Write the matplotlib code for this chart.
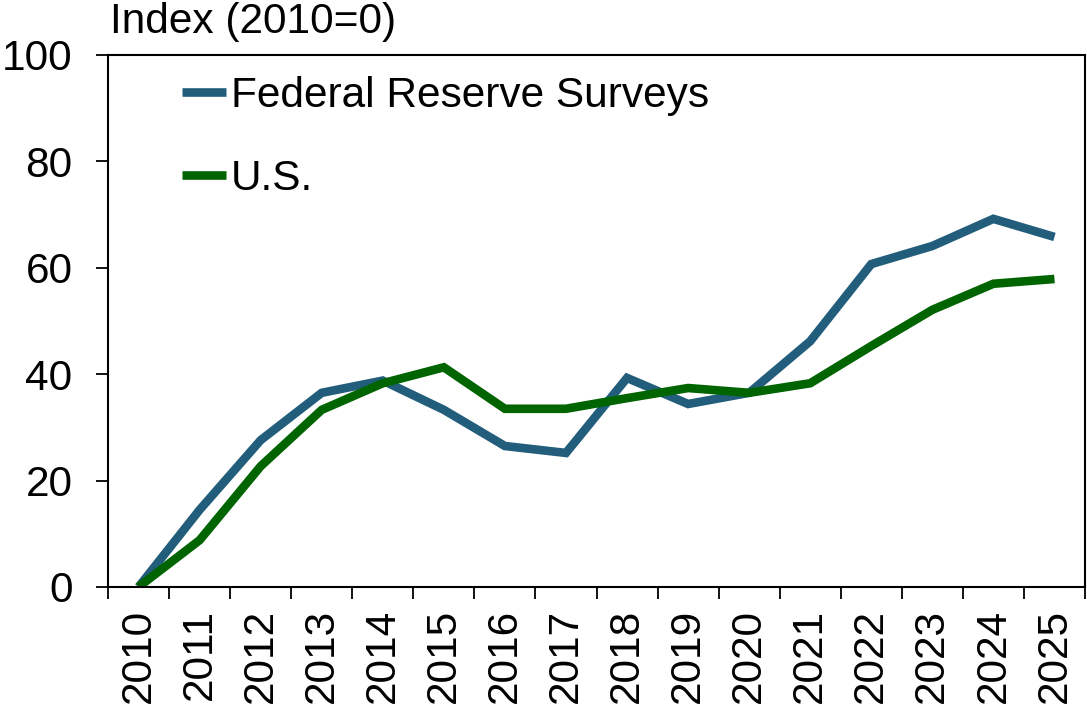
import matplotlib.pyplot as plt
import numpy as np

plt.rcParams['font.family'] = ['Liberation Sans', 'DejaVu Sans']

years = [str(y) for y in range(2010, 2026)]
fed_surveys = [0, 14.5, 27.6, 36.5, 38.8, 33.3, 26.5, 25.2, 39.3, 34.4,
               36.5, 46.2, 60.7, 64.1, 69.2, 65.8]
us = [0, 8.8, 22.7, 33.3, 38.3, 41.3, 33.5, 33.5, 35.5, 37.4,
      36.5, 38.3, 45.3, 52.1, 57.0, 57.9]

fs = 30.5
fig = plt.figure(figsize=(10.87, 7.11), dpi=100)
ax = fig.add_axes([108 / 1087, 1 - 587 / 711, 977 / 1087, 532 / 711])

x = np.arange(len(years))
ax.plot(x, fed_surveys, color='#225E7B', lw=6.2, label='Federal Reserve Surveys',
        solid_joinstyle='miter', solid_capstyle='butt')
ax.plot(x, us, color='#006400', lw=6.2, label='U.S.',
        solid_joinstyle='miter', solid_capstyle='butt')

ax.set_xlim(-0.5, len(years) - 0.5)
ax.set_ylim(0, 100)
ax.set_yticks([0, 20, 40, 60, 80, 100])
ax.tick_params(axis='y', labelsize=fs, length=8.6, width=1.3, pad=17)

ax.set_xticks(x)
ax.set_xticklabels(years, rotation=90, fontsize=fs)
ax.set_xticks(np.arange(-0.5, len(years)), minor=True)
ax.tick_params(axis='x', which='major', length=0, pad=15.5)
ax.tick_params(axis='x', which='minor', length=8.6, width=1.3)

for s in ax.spines.values():
    s.set_linewidth(1.5)

leg = ax.legend(loc='upper left', bbox_to_anchor=(0.058, 0.993), frameon=False,
                fontsize=fs, handlelength=1.05, handletextpad=0.12,
                labelspacing=1.03, borderaxespad=0)

fig.text(110 / 1087, 1 - 2 / 711, 'Index (2010=0)', fontsize=fs, va='top', ha='left')

fig.savefig('out.png', dpi=100)
